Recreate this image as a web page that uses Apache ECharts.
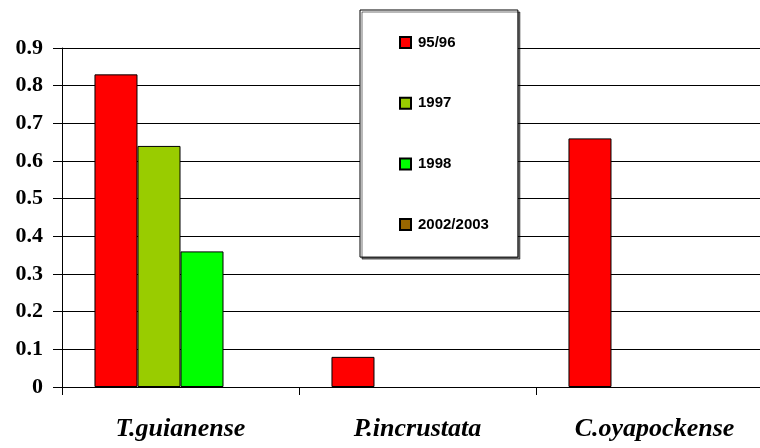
<!DOCTYPE html>
<html>
<head>
<meta charset="utf-8">
<script src="https://cdn.jsdelivr.net/npm/echarts@6/dist/echarts.min.js"></script>
<style>
html,body{margin:0;padding:0;background:#fff;}
#chart{width:760px;height:448px;}
</style>
</head>
<body>
<div id="chart"></div>
<script>
var categories = ['T.guianense', 'P.incrustata', 'C.oyapockense'];
var seriesNames = ['95/96', '1997', '1998', '2002/2003'];
var s9596 = [0.83, 0.08, 0.66];
var s1997 = [0.64, null, null];
var s1998 = [0.36, null, null];
var s2002 = [null, null, null];
var yTicks = [0, 0.9, 0.1];
var colors = ['#FF0000', '#99CC00', '#00FF00', '#996600'];

var serifFont = "Liberation Serif";
var sansFont = "Liberation Sans";

var chart = echarts.init(document.getElementById('chart'), null, {renderer: 'canvas'});
var allData = [s9596, s1997, s1998, s2002];
var series = allData.map(function (d, i) {
  return {
    name: seriesNames[i],
    type: 'bar',
    data: d,
    barGap: '0%',
    barCategoryGap: '27.4%',
    itemStyle: {color: colors[i], borderColor: '#000', borderWidth: 1},
    emphasis: {disabled: true}
  };
});

chart.setOption({
  animation: false,
  backgroundColor: '#fff',
  textStyle: {fontFamily: serifFont},
  grid: {left: 62, top: 48, height: 339, width: 711, containLabel: false, outerBoundsMode: 'none'},
  legend: {
    data: seriesNames,
    orient: 'vertical',
    left: 360,
    top: 10,
    padding: [24, 29, 24, 39],
    itemGap: 43.7,
    itemWidth: 11,
    itemHeight: 11,
    icon: 'rect',
    backgroundColor: '#fff',
    borderColor: '#000',
    borderWidth: 1,
    shadowColor: 'rgba(0,0,0,0.55)',
    shadowOffsetX: 2,
    shadowOffsetY: 2,
    shadowBlur: 0,
    selectedMode: false,
    textStyle: {
      fontFamily: sansFont,
      fontWeight: 'bold',
      fontSize: 15,
      lineHeight: 17,
      color: '#000',
      padding: [0, 0, 0, 2]
    }
  },
  xAxis: {
    type: 'category',
    data: categories,
    boundaryGap: true,
    axisLine: {lineStyle: {color: '#000', width: 1}},
    axisTick: {show: true, length: 8, inside: false, alignWithLabel: false, lineStyle: {color: '#000'}},
    axisLabel: {
      margin: 29,
      color: '#000',
      fontFamily: serifFont,
      fontWeight: 'bold',
      fontStyle: 'italic',
      fontSize: 26
    },
    splitLine: {show: false}
  },
  yAxis: {
    type: 'value',
    min: yTicks[0],
    max: yTicks[1],
    interval: yTicks[2],
    axisLine: {show: true, lineStyle: {color: '#000', width: 1}},
    axisTick: {show: true, length: 9, inside: false, lineStyle: {color: '#000'}},
    axisLabel: {
      margin: 19,
      color: '#000',
      fontFamily: serifFont,
      fontWeight: 'bold',
      fontSize: 22,
      formatter: function (v) { return String(Math.round(v * 10) / 10); }
    },
    splitLine: {show: true, lineStyle: {color: '#000', width: 1.2}}
  },
  series: series
});
</script>
</body>
</html>
